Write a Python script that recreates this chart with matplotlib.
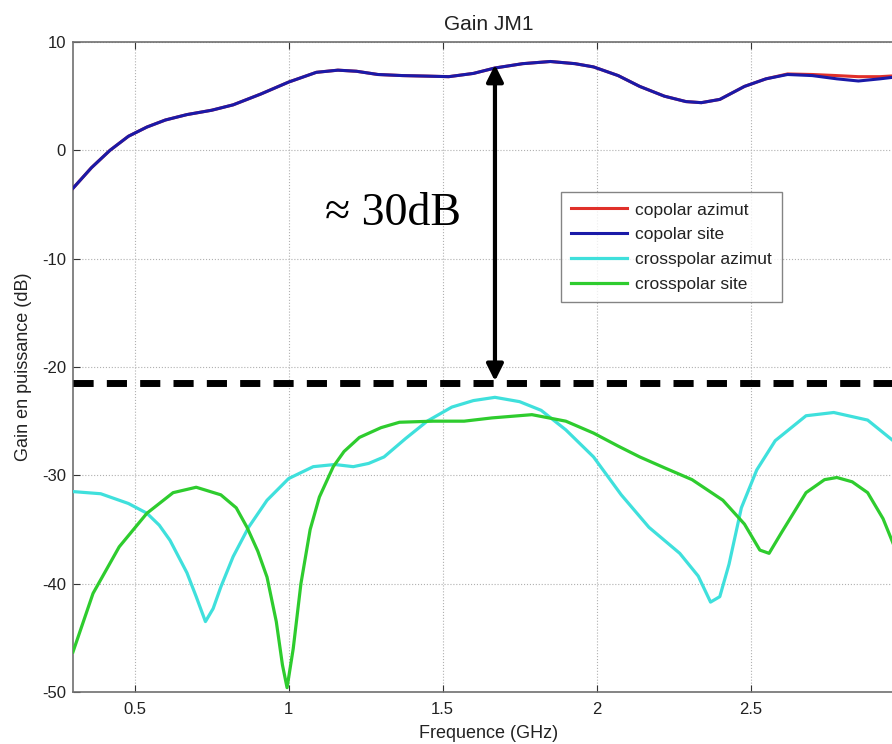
import matplotlib
matplotlib.use("Agg")
import matplotlib.pyplot as plt

# ---- data ----
freq_co = [0.30, 0.36, 0.42, 0.48, 0.54, 0.60, 0.67, 0.75, 0.82, 0.91, 1.00, 1.09, 1.16, 1.22, 1.29,
           1.37, 1.45, 1.52, 1.60, 1.67, 1.76, 1.85, 1.93, 1.99, 2.07, 2.14, 2.22, 2.29, 2.34, 2.40,
           2.48, 2.55, 2.62, 2.70, 2.78, 2.85, 2.92, 2.98]
copol_site = [-3.5, -1.6, 0.0, 1.3, 2.15, 2.8, 3.3, 3.7, 4.2, 5.2, 6.3, 7.2, 7.4, 7.3, 7.0,
              6.9, 6.85, 6.8, 7.1, 7.6, 8.0, 8.2, 8.0, 7.7, 6.9, 5.9, 5.0, 4.5, 4.4, 4.7,
              5.9, 6.6, 7.0, 6.9, 6.6, 6.4, 6.6, 6.8]
copol_azimut = [-3.5, -1.6, 0.0, 1.3, 2.15, 2.8, 3.3, 3.7, 4.2, 5.2, 6.3, 7.2, 7.4, 7.3, 7.0,
                6.9, 6.85, 6.8, 7.1, 7.6, 8.0, 8.2, 8.0, 7.7, 6.9, 5.9, 5.0, 4.5, 4.4, 4.7,
                5.9, 6.6, 7.05, 7.0, 6.9, 6.8, 6.8, 6.9]

freq_x = [0.30, 0.39, 0.48, 0.54, 0.58, 0.615, 0.67, 0.70, 0.73, 0.755, 0.78, 0.82, 0.87, 0.93, 1.00,
          1.08, 1.15, 1.21, 1.26, 1.31, 1.38, 1.45, 1.53, 1.60, 1.67, 1.75, 1.82, 1.90, 1.99, 2.08,
          2.17, 2.27, 2.33, 2.37, 2.40, 2.43, 2.47, 2.52, 2.58, 2.68, 2.77, 2.88, 2.98]
cross_azimut = [-31.5, -31.7, -32.6, -33.5, -34.6, -36.0, -39.0, -41.2, -43.5, -42.3, -40.3, -37.5, -34.8, -32.3, -30.3,
                -29.2, -29.0, -29.2, -28.9, -28.3, -26.6, -25.0, -23.7, -23.1, -22.8, -23.2, -24.0, -25.8, -28.3, -31.8,
                -34.8, -37.2, -39.3, -41.7, -41.2, -38.2, -33.0, -29.5, -26.8, -24.5, -24.2, -24.9, -27.2]

freq_s = [0.30, 0.365, 0.45, 0.54, 0.625, 0.70, 0.78, 0.83, 0.865, 0.90, 0.93, 0.96, 0.98, 0.995, 1.015,
          1.04, 1.07, 1.10, 1.145, 1.18, 1.23, 1.30, 1.36, 1.47, 1.57, 1.66, 1.79, 1.90, 1.99, 2.07,
          2.14, 2.22, 2.31, 2.41, 2.48, 2.53, 2.56, 2.60, 2.68, 2.74, 2.78, 2.83, 2.88, 2.93, 2.98]
cross_site = [-46.3, -40.9, -36.6, -33.5, -31.6, -31.1, -31.8, -33.0, -34.8, -37.0, -39.4, -43.5, -47.5, -49.6, -46.0,
              -40.0, -35.0, -32.0, -29.2, -27.8, -26.5, -25.6, -25.1, -25.0, -25.0, -24.7, -24.4, -25.0, -26.1, -27.3,
              -28.3, -29.3, -30.4, -32.3, -34.5, -36.9, -37.2, -35.3, -31.6, -30.4, -30.2, -30.6, -31.6, -34.0, -37.5]

threshold_db = -21.5
arrow_freq = 1.67
arrow_top = 7.9
arrow_bottom = -21.3

labels = ["copolar azimut", "copolar site", "crosspolar azimut", "crosspolar site"]
xticks = [0.5, 1, 1.5, 2, 2.5]
xticklabels = ["0.5", "1", "1.5", "2", "2.5"]
yticks = [-50, -40, -30, -20, -10, 0, 10]

# ---- figure ----
plt.rcParams['font.family'] = ['Liberation Sans', 'DejaVu Sans']
plt.rcParams['axes.unicode_minus'] = False
fig = plt.figure(figsize=(8.92, 7.44), dpi=100)
W, H = 892, 744
left, right, top, bottom = 73, 904.6, 42, 692
ax = fig.add_axes([left / W, 1 - bottom / H, (right - left) / W, (bottom - top) / H])

ax.plot(freq_co, copol_azimut, color='#e0302a', lw=2.2, label=labels[0], zorder=3)
ax.plot(freq_co, copol_site, color='#1a1aa8', lw=2.2, label=labels[1], zorder=4)
ax.plot(freq_x, cross_azimut, color='#3fe0dc', lw=2.3, label=labels[2], zorder=3)
ax.plot(freq_s, cross_site, color='#2ecc2e', lw=2.3, label=labels[3], zorder=4)

ax.axhline(threshold_db, color='black', lw=5, dashes=(2.9, 1.9), dash_capstyle='butt', zorder=5)
ax.annotate('', xy=(arrow_freq, arrow_top), xytext=(arrow_freq, arrow_bottom),
            arrowprops=dict(arrowstyle='<|-|>', color='black', lw=3, mutation_scale=25,
                            shrinkA=0, shrinkB=0), zorder=6)
ax.text(1.34, -5.9, '≈ 30dB', fontsize=33, ha='center', va='center',
        family=['Liberation Serif', 'DejaVu Serif'])

ax.set_xlim(0.3, 3.0)
ax.set_ylim(-50, 10)
ax.set_xticks(xticks)
ax.set_xticklabels(xticklabels)
ax.set_yticks(yticks)
ax.tick_params(direction='in', top=True, right=True, labelsize=12, colors='#333333',
               labelcolor='#222222', length=5, width=0.8)
ax.tick_params(axis='x', pad=7)
ax.tick_params(axis='y', pad=5)
ax.grid(True, linestyle=':', color='#b0b0b0', lw=0.8)
for s in ax.spines.values():
    s.set_color('#707070')
    s.set_linewidth(1.2)

ax.set_title('Gain JM1', fontsize=15, color='#222222', pad=9)
ax.set_xlabel('Frequence (GHz)', fontsize=13, color='#222222', labelpad=6)
ax.set_ylabel('Gain en puissance (dB)', fontsize=13, color='#222222', labelpad=7)

leg = ax.legend(loc='upper left', bbox_to_anchor=((561 - left) / (right - left), 1 - (192 - top) / (bottom - top)),
                fontsize=12.5, frameon=True, fancybox=False, edgecolor='#666666',
                handlelength=3.2, borderpad=0.6, labelspacing=0.55, handletextpad=0.45, borderaxespad=0)
leg.get_frame().set_linewidth(1.0)
for t in leg.get_texts():
    t.set_color('#222222')

fig.savefig('out.png', dpi=100)
